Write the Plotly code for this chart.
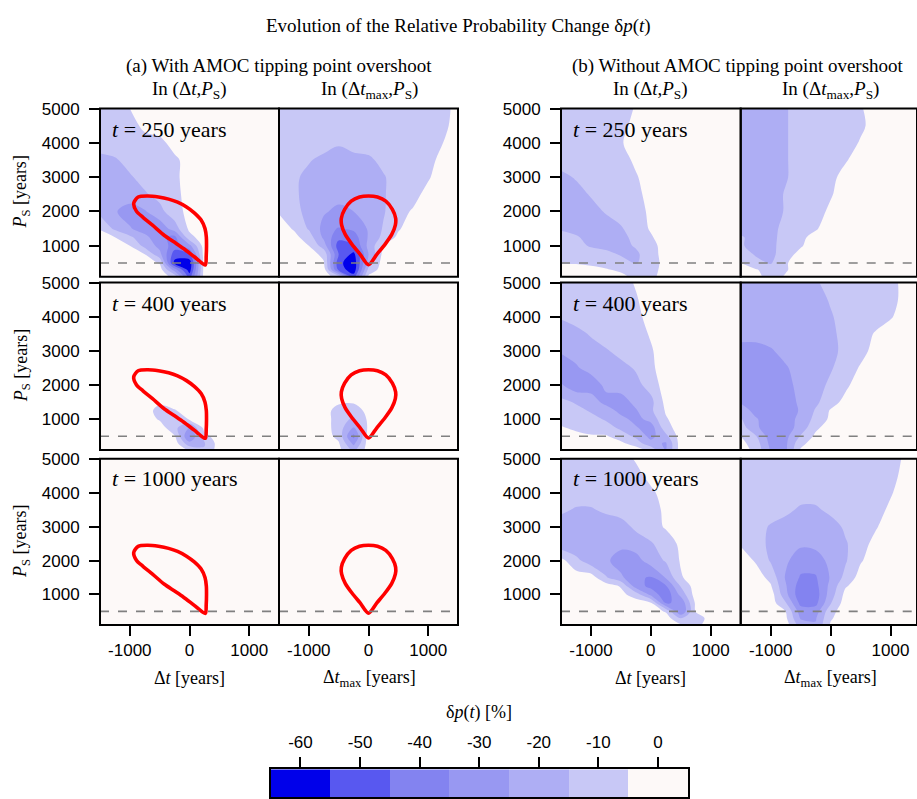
import plotly.graph_objects as go

W, H = 917, 799

# ---------------- data ----------------
dt_grid = [-1500, -1250, -1000, -750, -500, -250, 0, 250, 500, 750, 1000, 1250, 1500]
ps_grid = [5000, 4500, 4000, 3500, 3000, 2500, 2000, 1500, 1250, 1000, 750, 500, 300, 100]

# relative probability change [%]; rows follow ps_grid (top to bottom), columns follow dt_grid
dp_a_250_dt = [
    [-10, -10, -5, 0, 0, 0, 0, 0, 0, 0, 0, 0, 0],
    [-10, -10, -10, -2, 0, 0, 0, 0, 0, 0, 0, 0, 0],
    [-10, -10, -10, -10, -8, -1, 0, 0, 0, 0, 0, 0, 0],
    [-18, -16, -12, -10, -10, -7, -1, 0, 0, 0, 0, 0, 0],
    [-20, -19, -16, -12, -10, -7, -1, 0, 0, 0, 0, 0, 0],
    [-22, -21, -19, -16, -12, -8, -1, 0, 0, 0, 0, 0, 0],
    [-18, -24, -30, -26, -18, -9, -2, 0, 0, 0, 0, 0, 0],
    [-6, -17, -24, -30, -32, -20, -3, 0, 0, 0, 0, 0, 0],
    [0, -5, -13, -22, -32, -38, -8, 0, 0, 0, 0, 0, 0],
    [0, 0, -5, -18, -28, -40, -28, 0, 0, 0, 0, 0, 0],
    [0, 0, 0, -5, -22, -50, -45, 0, 0, 0, 0, 0, 0],
    [0, 0, 0, 0, -6, -58, -62, 0, 0, 0, 0, 0, 0],
    [0, 0, 0, 0, 0, -30, -60, 0, 0, 0, 0, 0, 0],
    [0, 0, 0, 0, 0, -8, -50, 0, 0, 0, 0, 0, 0],
]
dp_a_250_dtmax = [
    [-10, -10, -10, -10, -10, -10, -10, -10, -10, -10, -10, -10, 0],
    [-10, -10, -10, -10, -10, -10, -10, -10, -10, -10, -10, -8, 0],
    [-10, -10, -10, -10, -14, -10, -10, -10, -10, -10, -10, -5, 0],
    [-10, -11, -14, -18, -19, -19, -17, -12, -10, -10, -8, -2, 0],
    [-10, -13, -18, -20, -20, -20, -20, -16, -10, -10, -6, 0, 0],
    [-10, -13, -19, -22, -22, -22, -20, -16, -10, -8, -2, 0, 0],
    [-6, -12, -18, -24, -27, -25, -20, -16, -8, -4, 0, 0, 0],
    [0, -6, -16, -28, -36, -33, -24, -14, -6, 0, 0, 0, 0],
    [0, -2, -10, -27, -42, -40, -24, -12, -3, 0, 0, 0, 0],
    [0, 0, -5, -20, -50, -46, -22, -5, 0, 0, 0, 0, 0],
    [0, 0, 0, -8, -45, -58, -25, -2, 0, 0, 0, 0, 0],
    [0, 0, 0, -4, -52, -62, -20, 0, 0, 0, 0, 0, 0],
    [0, 0, 0, 0, -48, -62, -12, 0, 0, 0, 0, 0, 0],
    [0, 0, 0, 0, -10, -50, -3, 0, 0, 0, 0, 0, 0],
]
dp_a_400_dt = [
    [0] * 13, [0] * 13, [0] * 13, [0] * 13, [0] * 13, [0] * 13, [0] * 13,
    [0, 0, 0, 0, -3, 0, 0, 0, 0, 0, 0, 0, 0],
    [0, 0, 0, 0, -9, -6, 0, 0, 0, 0, 0, 0, 0],
    [0, 0, 0, 0, -6, -14, -4, 0, 0, 0, 0, 0, 0],
    [0, 0, 0, 0, 0, -12, -26, -2, 0, 0, 0, 0, 0],
    [0, 0, 0, 0, 0, -4, -36, -8, 0, 0, 0, 0, 0],
    [0, 0, 0, 0, 0, 0, -22, -16, 0, 0, 0, 0, 0],
    [0, 0, 0, 0, 0, 0, -6, -14, 0, 0, 0, 0, 0],
]
dp_a_400_dtmax = [
    [0] * 13, [0] * 13, [0] * 13, [0] * 13, [0] * 13, [0] * 13, [0] * 13,
    [0, 0, 0, 0, -3, -4, 0, 0, 0, 0, 0, 0, 0],
    [0, 0, 0, 0, -10, -10, -2, 0, 0, 0, 0, 0, 0],
    [0, 0, 0, 0, -10, -17, -3, 0, 0, 0, 0, 0, 0],
    [0, 0, 0, 0, -10, -26, -3, 0, 0, 0, 0, 0, 0],
    [0, 0, 0, 0, -8, -38, 0, 0, 0, 0, 0, 0, 0],
    [0, 0, 0, 0, -4, -28, 0, 0, 0, 0, 0, 0, 0],
    [0, 0, 0, 0, -2, -18, 0, 0, 0, 0, 0, 0, 0],
]
dp_b_250_dt = [
    [-10, -10, -10, -10, -10, -4, 0, 0, 0, 0, 0, 0, 0],
    [-10, -10, -10, -10, -8, -2, 0, 0, 0, 0, 0, 0, 0],
    [-10, -10, -10, -10, -6, 0, 0, 0, 0, 0, 0, 0, 0],
    [-10, -10, -10, -10, -9, -3, 0, 0, 0, 0, 0, 0, 0],
    [-18, -14, -11, -10, -10, -6, 0, 0, 0, 0, 0, 0, 0],
    [-20, -19, -14, -11, -10, -8, -1, 0, 0, 0, 0, 0, 0],
    [-20, -20, -19, -14, -11, -9, -3, 0, 0, 0, 0, 0, 0],
    [-16, -18, -20, -20, -16, -10, -4, 0, 0, 0, 0, 0, 0],
    [-12, -14, -18, -19, -18, -12, -6, 0, 0, 0, 0, 0, 0],
    [-10, -12, -16, -18, -18, -14, -9, 0, 0, 0, 0, 0, 0],
    [-8, -9, -10, -12, -16, -17, -9, -1, 0, 0, 0, 0, 0],
    [-6, -6, -7, -9, -11, -16, -9, -2, 0, 0, 0, 0, 0],
    [0, 0, -2, -4, -7, -10, -8, -2, 0, 0, 0, 0, 0],
    [0, 0, 0, 0, -2, -8, -8, 0, 0, 0, 0, 0, 0],
]
dp_b_250_dtmax = [
    [-20, -20, -20, -16, -10, -10, -10, -10, -6, 0, 0, 0, 0],
    [-20, -20, -20, -16, -10, -10, -10, -10, -7, -1, 0, 0, 0],
    [-20, -20, -20, -16, -10, -10, -10, -10, -4, 0, 0, 0, 0],
    [-20, -20, -20, -16, -10, -10, -10, -6, 0, 0, 0, 0, 0],
    [-20, -20, -20, -16, -10, -10, -8, -1, 0, 0, 0, 0, 0],
    [-20, -20, -20, -14, -10, -10, -6, 0, 0, 0, 0, 0, 0],
    [-20, -20, -20, -14, -10, -9, -3, 0, 0, 0, 0, 0, 0],
    [-20, -20, -18, -12, -10, -6, 0, 0, 0, 0, 0, 0, 0],
    [-14, -18, -18, -11, -7, -2, 0, 0, 0, 0, 0, 0, 0],
    [-14, -18, -18, -10, -6, 0, 0, 0, 0, 0, 0, 0, 0],
    [-10, -16, -18, -9, -2, 0, 0, 0, 0, 0, 0, 0, 0],
    [-5, -12, -16, -6, 0, 0, 0, 0, 0, 0, 0, 0, 0],
    [0, -4, -10, -6, 0, 0, 0, 0, 0, 0, 0, 0, 0],
    [0, -2, -9, -4, 0, 0, 0, 0, 0, 0, 0, 0, 0],
]
dp_b_400_dt = [
    [-10, -10, -10, -10, -9, -4, 0, 0, 0, 0, 0, 0, 0],
    [-12, -10, -10, -10, -10, -6, 0, 0, 0, 0, 0, 0, 0],
    [-14, -11, -10, -10, -10, -8, -1, 0, 0, 0, 0, 0, 0],
    [-20, -18, -14, -10, -10, -9, -4, 0, 0, 0, 0, 0, 0],
    [-24, -22, -19, -16, -12, -10, -6, 0, 0, 0, 0, 0, 0],
    [-30, -26, -22, -20, -18, -14, -7, 0, 0, 0, 0, 0, 0],
    [-24, -31, -30, -23, -20, -18, -11, 0, 0, 0, 0, 0, 0],
    [-12, -16, -20, -28, -30, -22, -18, -2, 0, 0, 0, 0, 0],
    [-10, -12, -16, -20, -28, -26, -17, -4, 0, 0, 0, 0, 0],
    [-8, -10, -12, -16, -22, -28, -22, -6, 0, 0, 0, 0, 0],
    [-4, -7, -9, -11, -17, -24, -30, -9, 0, 0, 0, 0, 0],
    [0, -2, -4, -4, -10, -17, -28, -18, 0, 0, 0, 0, 0],
    [0, 0, 0, 0, -3, -10, -22, -26, 0, 0, 0, 0, 0],
    [0, 0, 0, 0, 0, 0, -8, -26, 0, 0, 0, 0, 0],
]
dp_b_400_dtmax = [
    [-20, -20, -20, -20, -20, -16, -12, -10, -10, -10, -8, -2, 0],
    [-20, -20, -20, -20, -20, -19, -14, -10, -10, -10, -8, -2, 0],
    [-20, -20, -20, -20, -20, -20, -16, -11, -10, -10, -6, 0, 0],
    [-22, -22, -21, -20, -20, -20, -17, -12, -10, -4, 0, 0, 0],
    [-28, -28, -26, -22, -20, -20, -18, -12, -8, -2, 0, 0, 0],
    [-30, -30, -30, -26, -21, -20, -16, -10, -4, 0, 0, 0, 0],
    [-30, -31, -30, -28, -22, -19, -13, -7, 0, 0, 0, 0, 0],
    [-26, -30, -30, -30, -23, -17, -9, -2, 0, 0, 0, 0, 0],
    [-20, -28, -31, -30, -24, -14, -4, 0, 0, 0, 0, 0, 0],
    [-14, -24, -30, -30, -22, -12, -3, 0, 0, 0, 0, 0, 0],
    [-10, -23, -31, -30, -21, -7, 0, 0, 0, 0, 0, 0, 0],
    [-5, -14, -30, -28, -14, -3, 0, 0, 0, 0, 0, 0, 0],
    [-2, -10, -28, -27, -8, 0, 0, 0, 0, 0, 0, 0, 0],
    [0, -8, -26, -27, -4, 0, 0, 0, 0, 0, 0, 0, 0],
]
dp_b_1000_dt = [
    [-10, -10, -10, -10, -9, -4, 0, 0, 0, 0, 0, 0, 0],
    [-10, -10, -10, -10, -10, -8, -2, 0, 0, 0, 0, 0, 0],
    [-10, -10, -10, -10, -10, -10, -7, -1, 0, 0, 0, 0, 0],
    [-13, -16, -16, -13, -11, -10, -9, -3, 0, 0, 0, 0, 0],
    [-20, -22, -22, -21, -19, -13, -9, -4, 0, 0, 0, 0, 0],
    [-22, -23, -23, -23, -22, -20, -16, -10, -3, 0, 0, 0, 0],
    [-2, -12, -21, -23, -30, -29, -20, -14, -4, 0, 0, 0, 0],
    [0, 0, 0, -14, -23, -33, -36, -24, -6, 0, 0, 0, 0],
    [0, 0, 0, 0, -6, -30, -38, -36, -14, 0, 0, 0, 0],
    [0, 0, 0, 0, -2, -10, -28, -42, -22, 0, 0, 0, 0],
    [0, 0, 0, 0, 0, 0, -4, -36, -33, -3, 0, 0, 0],
    [0, 0, 0, 0, 0, 0, 0, -6, -35, -4, 0, 0, 0],
    [0, 0, 0, 0, 0, 0, 0, 0, -15, -12, 0, 0, 0],
    [0, 0, 0, 0, 0, 0, 0, 0, -4, -8, 0, 0, 0],
]
dp_b_1000_dtmax = [
    [-10, -10, -10, -10, -10, -10, -10, -10, -10, -10, -10, -3, 0],
    [-10, -10, -10, -10, -10, -10, -10, -10, -10, -10, -8, -2, 0],
    [-10, -10, -10, -10, -10, -10, -10, -10, -10, -10, -6, 0, 0],
    [-10, -10, -10, -12, -17, -17, -12, -10, -10, -9, -3, 0, 0],
    [-10, -11, -16, -20, -21, -21, -20, -13, -10, -6, 0, 0, 0],
    [-6, -11, -17, -22, -23, -22, -21, -16, -9, -2, 0, 0, 0],
    [0, -6, -16, -23, -31, -30, -22, -16, -6, 0, 0, 0, 0],
    [0, 0, -8, -26, -36, -36, -24, -12, -1, 0, 0, 0, 0],
    [0, 0, -4, -24, -40, -38, -22, -6, 0, 0, 0, 0, 0],
    [0, 0, 0, -22, -42, -40, -20, -2, 0, 0, 0, 0, 0],
    [0, 0, 0, -14, -38, -38, -16, 0, 0, 0, 0, 0, 0],
    [0, 0, 0, -5, -30, -30, -8, 0, 0, 0, 0, 0, 0],
    [0, 0, 0, -3, -26, -26, -6, 0, 0, 0, 0, 0, 0],
    [0, 0, 0, 0, -20, -24, -4, 0, 0, 0, 0, 0, 0],
]

# overshoot region boundaries (red curves)
overshoot_dt_x = [265, 280, 285, 282, 260, 195, 80, -50, -200, -350, -520, -700, -860, -935,
                  -890, -780, -620, -420, -250, -100, 80, 265]
overshoot_dt_ps = [440, 700, 1000, 1250, 1500, 1750, 1960, 2130, 2270, 2360, 2420, 2450, 2420, 2240,
                   2010, 1830, 1600, 1300, 1100, 920, 680, 440]
overshoot_dtmax_x = [0, -140, -280, -390, -450, -455, -400, -290, -150, 0,
                     150, 290, 400, 455, 450, 390, 280, 140, 0]
overshoot_dtmax_ps = [450, 750, 1050, 1330, 1600, 1800, 2060, 2300, 2420, 2450,
                      2420, 2300, 2060, 1800, 1600, 1330, 1050, 750, 450]

ps_threshold = 500
row_times = [250, 400, 1000]

band_levels = [-60, -50, -40, -30, -20, -10, 0]
band_colors = ['#0000ea', '#5858f0', '#8383f0', '#9898f2', '#aeaef4', '#c8c8f6', '#fdf9f8']

x_ticks = [-1000, 0, 1000]
y_ticks = [1000, 2000, 3000, 4000, 5000]

# panel grid: [row][col] -> field (None = no signal)
fields = [
    [dp_a_250_dt, dp_a_250_dtmax, dp_b_250_dt, dp_b_250_dtmax],
    [dp_a_400_dt, dp_a_400_dtmax, dp_b_400_dt, dp_b_400_dtmax],
    [None, None, dp_b_1000_dt, dp_b_1000_dtmax],
]

# ---------------- styling ----------------
SERIF = "Liberation Serif"
SANS = "Liberation Sans"

n = len(band_colors)
cscale = []
for k, c in enumerate(band_colors):
    lo = max(0.0, (k - 0.5) / (n - 1))
    hi = min(1.0, (k + 0.5) / (n - 1))
    cscale.append([lo, c])
    cscale.append([hi, c])

col_px = [(100, 279), (279, 458), (561, 740.7), (740.7, 917)]
row_px = [(100.7, 270.7), (276.7, 446), (455, 623)]
x_ranges = [[-1500, 1500], [-1500, 1500], [-1500, 1500], [-1500, 1442]]


def fx(p):
    return p / W


def fy(p):
    return 1 - p / H


fig = go.Figure()
layout = dict(
    width=W, height=H, autosize=False,
    margin=dict(l=0, r=0, t=0, b=0),
    paper_bgcolor='white', plot_bgcolor=band_colors[-1],
    showlegend=False,
)
shapes = []
annotations = []

ps_asc = ps_grid[::-1]
idx = 0
for r in range(3):
    for c in range(4):
        idx += 1
        xa = 'x' if idx == 1 else f'x{idx}'
        ya = 'y' if idx == 1 else f'y{idx}'
        xkey = 'xaxis' if idx == 1 else f'xaxis{idx}'
        ykey = 'yaxis' if idx == 1 else f'yaxis{idx}'
        z = fields[r][c]
        if z is not None:
            fig.add_trace(go.Contour(
                x=dt_grid, y=ps_asc, z=z[::-1], xaxis=xa, yaxis=ya,
                colorscale=cscale, autocontour=False,
                contours=dict(start=-55, end=-5, size=10, coloring='fill', showlines=False),
                line=dict(width=0, smoothing=1.0), showscale=False, hoverinfo='skip'))
        if c < 2:
            if c == 0:
                cx, cy = overshoot_dt_x, overshoot_dt_ps
            else:
                cx, cy = overshoot_dtmax_x, overshoot_dtmax_ps
            fig.add_trace(go.Scatter(x=cx, y=cy, xaxis=xa, yaxis=ya, mode='lines',
                                     line=dict(color='#ff0000', width=3.6, shape='spline', smoothing=0.8),
                                     hoverinfo='skip'))
        bottom = (r == 2)
        left = (c in (0, 2))
        layout[xkey] = dict(
            domain=[fx(col_px[c][0]), fx(col_px[c][1])], range=x_ranges[c],
            anchor=ya, showgrid=False, zeroline=False, showline=False,
            tickvals=x_ticks if bottom else [], ticktext=[str(v) for v in x_ticks] if bottom else [],
            ticks='outside' if bottom else '', ticklen=10, tickwidth=1.6, tickcolor='black',
            showticklabels=bottom, tickfont=dict(family=SANS, size=17, color='black'),
        )
        layout[ykey] = dict(
            domain=[fy(row_px[r][1]), fy(row_px[r][0])], range=[100, 5000],
            anchor=xa, showgrid=False, zeroline=False, showline=False,
            tickvals=y_ticks if left else [], ticktext=[str(v) for v in y_ticks] if left else [],
            ticks='outside' if left else '', ticklen=10, tickwidth=1.6, tickcolor='black',
            showticklabels=left, tickfont=dict(family=SANS, size=17, color='black'),
            ticklabelstandoff=6,
        )
        shapes.append(dict(type='line', xref=f'{xa} domain', yref=ya, x0=0, x1=1,
                           y0=ps_threshold, y1=ps_threshold, layer='above',
                           line=dict(color='#808080', width=1.6, dash='dash')))
        shapes.append(dict(type='rect', xref=f'{xa} domain', yref=f'{ya} domain', x0=0, x1=1,
                           y0=0, y1=1, layer='above', fillcolor='rgba(0,0,0,0)',
                           line=dict(color='black', width=2)))

# colour bar as its own axis pair
fig.add_trace(go.Heatmap(z=[band_levels], x=band_levels, y=[0], xaxis='x13', yaxis='y13',
                         colorscale=cscale, zmin=band_levels[0], zmax=band_levels[-1],
                         showscale=False, hoverinfo='skip'))
layout['xaxis13'] = dict(domain=[fx(270.7), fx(687.7)], range=[-65, 5], anchor='y13', side='top',
                         showgrid=False, zeroline=False, showline=True, linecolor='black', linewidth=2,
                         mirror=True, tickvals=band_levels, ticktext=[str(v) for v in band_levels],
                         ticks='outside', ticklen=10, tickwidth=1.6, tickcolor='black',
                         tickfont=dict(family=SANS, size=17, color='black'), ticklabelstandoff=3)
layout['yaxis13'] = dict(domain=[fy(797), fy(769)], range=[-0.5, 0.5], anchor='x13',
                         showgrid=False, zeroline=False, showline=True, linecolor='black', linewidth=2,
                         mirror=True, showticklabels=False, ticks='')


def ann(text, x, y, size=18, xanchor='center', yanchor='middle', angle=0, family=SERIF):
    annotations.append(dict(text=text, x=fx(x), y=fy(y), xref='paper', yref='paper',
                            xanchor=xanchor, yanchor=yanchor, showarrow=False, textangle=angle,
                            font=dict(family=family, size=size, color='black')))


ann('Evolution of the Relative Probability Change δ<i>p</i>(<i>t</i>)', 458, 17, size=19)
ann('(a) With AMOC tipping point overshoot', 279, 58, size=19)
ann('(b) Without AMOC tipping point overshoot', 738, 58, size=19)
sub_dt = 'In (Δ<i>t</i>,<i>P</i><sub>S</sub>)'
sub_dtmax = 'In (Δ<i>t</i><sub>max</sub>,<i>P</i><sub>S</sub>)'
for cxp, txt in zip([189, 369, 650, 830], [sub_dt, sub_dtmax, sub_dt, sub_dtmax]):
    ann(txt, cxp, 82, size=19)
label_y = [121.7, 298, 475]
for r, t in enumerate(row_times):
    for lx in (110, 571):
        ann(f'<i>t</i> = {t} years', lx, label_y[r], size=22, xanchor='left')
    ann('<i>P</i><sub>S</sub> [years]', 22, (row_px[r][0] + row_px[r][1]) / 2, size=18, angle=-90)
xt_dt = 'Δ<i>t</i> [years]'
xt_dtmax = 'Δ<i>t</i><sub>max</sub> [years]'
for cxp, txt in zip([189, 369, 650, 830], [xt_dt, xt_dtmax, xt_dt, xt_dtmax]):
    ann(txt, cxp, 677, size=18)
ann('δ<i>p</i>(<i>t</i>) [%]', 479, 712, size=18)

layout['shapes'] = shapes
layout['annotations'] = annotations
fig.update_layout(**layout)
fig.write_html('out.html')
